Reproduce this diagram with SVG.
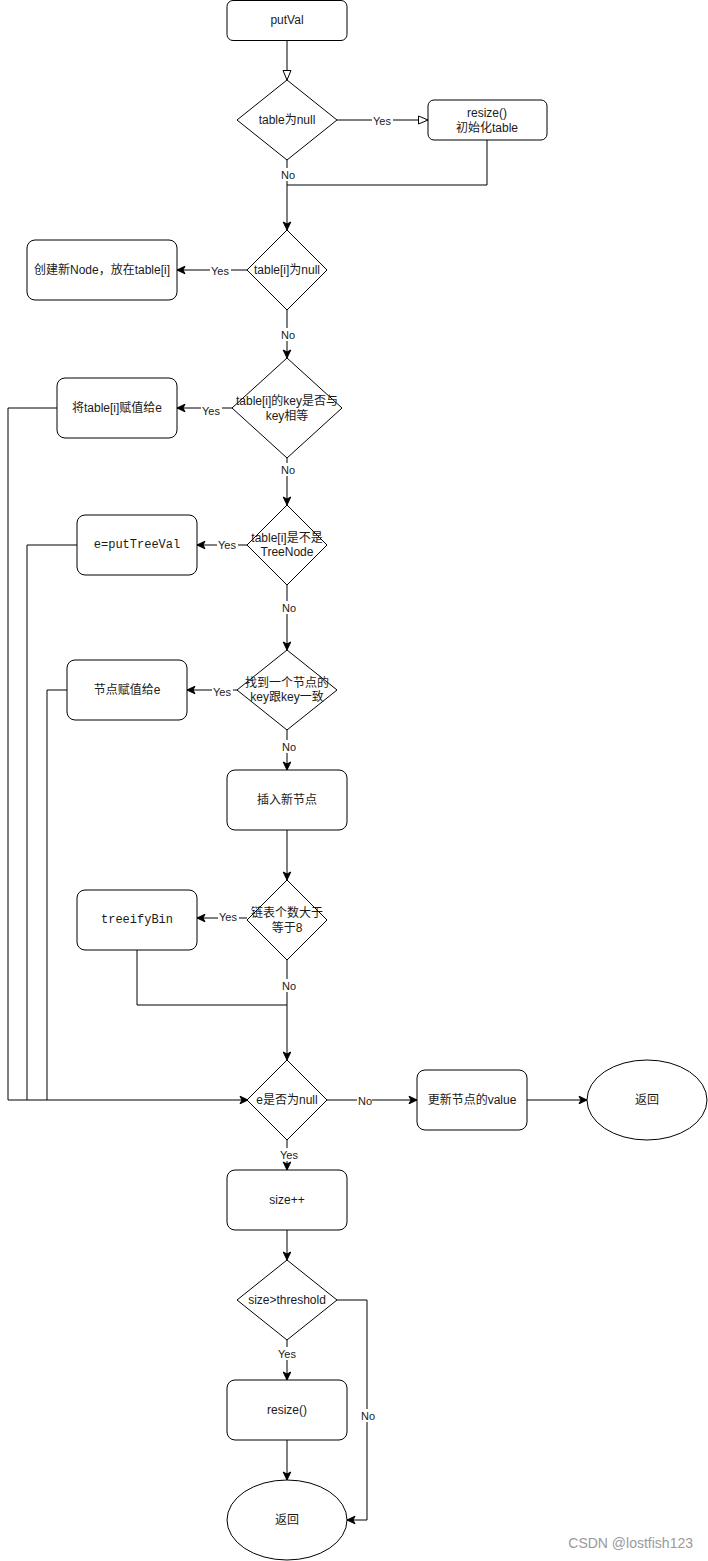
<svg xmlns="http://www.w3.org/2000/svg" width="708" height="1561" viewBox="0 0 708 1561">
<style>
.n{fill:#fff;stroke:#000;stroke-width:1}
.t{font-family:"Liberation Sans","Noto Sans CJK SC",sans-serif;font-size:12px;fill:#1a1a1a;text-anchor:middle;dominant-baseline:central}
.m{font-family:"Liberation Mono","Noto Sans CJK SC",monospace;font-size:12px;fill:#1a1a1a;text-anchor:middle;dominant-baseline:central}
.l{font-family:"Liberation Sans",sans-serif;font-size:11px;fill:#1a1a1a;text-anchor:middle;dominant-baseline:central}
.e{fill:none;stroke:#000;stroke-width:1}
.a{marker-end:url(#arr)}
.o{marker-end:url(#open)}
.bg{fill:#fff}
.w{font-family:"Liberation Sans",sans-serif;font-size:14px;fill:#9a9a9a}
</style>
<defs>
<marker id="arr" markerUnits="userSpaceOnUse" markerWidth="10" markerHeight="10" viewBox="0 0 10 10" refX="9" refY="5" orient="auto">
<path d="M1,1.2 L9,5 L1,8.8 L3,5 Z" fill="#000" stroke="#000" stroke-width="1"/>
</marker>
<marker id="open" markerUnits="userSpaceOnUse" markerWidth="12" markerHeight="12" viewBox="0 0 12 12" refX="10.5" refY="6" orient="auto">
<path d="M1,2 L10.5,6 L1,10 Z" fill="#fff" stroke="#000" stroke-width="1"/>
</marker>
</defs>

<g id="connectors">
<path class="e o" d="M287,40 L287,80"/>
<path class="e o" d="M337,120 L428,120"/>
<path class="e a" d="M287,160 L287,230"/>
<path class="e" d="M487,140 L487,185 L287,185"/>
<path class="e a" d="M247,270 L177,270"/>
<path class="e a" d="M287,310 L287,358"/>
<path class="e a" d="M232,408 L177,408"/>
<path class="e a" d="M57,408 L8,408 L8,1100 L248,1100"/>
<path class="e a" d="M287,458 L287,505"/>
<path class="e a" d="M247,545 L197,545"/>
<path class="e" d="M77,545 L27,545 L27,1100"/>
<path class="e a" d="M287,585 L287,650"/>
<path class="e a" d="M237,690 L187,690"/>
<path class="e" d="M67,690 L47,690 L47,1100"/>
<path class="e a" d="M287,730 L287,770"/>
<path class="e a" d="M287,830 L287,880"/>
<path class="e a" d="M247,918 L197,918"/>
<path class="e" d="M137,950 L137,1005 L287,1005"/>
<path class="e a" d="M287,960 L287,1060"/>
<path class="e a" d="M327,1100 L417,1100"/>
<path class="e a" d="M527,1100 L587,1100"/>
<path class="e a" d="M287,1140 L287,1170"/>
<path class="e a" d="M287,1230 L287,1260"/>
<path class="e a" d="M287,1340 L287,1380"/>
<path class="e a" d="M337,1300 L367,1300 L367,1520 L347,1520"/>
<path class="e a" d="M287,1440 L287,1480"/>
<g id="labels">
<rect class="bg" x="372" y="114" width="21" height="13"/><text class="l" x="382" y="121">Yes</text>
<rect class="bg" x="280" y="168" width="15" height="13"/><text class="l" x="288" y="175">No</text>
<rect class="bg" x="210" y="264" width="21" height="13"/><text class="l" x="220" y="271">Yes</text>
<rect class="bg" x="280" y="328" width="15" height="13"/><text class="l" x="288" y="335">No</text>
<rect class="bg" x="201" y="404" width="21" height="13"/><text class="l" x="211" y="411">Yes</text>
<rect class="bg" x="280" y="463" width="15" height="13"/><text class="l" x="288" y="470">No</text>
<rect class="bg" x="217" y="538" width="21" height="13"/><text class="l" x="227" y="545">Yes</text>
<rect class="bg" x="281" y="601" width="15" height="13"/><text class="l" x="289" y="608">No</text>
<rect class="bg" x="212" y="685" width="21" height="13"/><text class="l" x="222" y="692">Yes</text>
<rect class="bg" x="281" y="740" width="15" height="13"/><text class="l" x="289" y="747">No</text>
<rect class="bg" x="218" y="910" width="21" height="13"/><text class="l" x="228" y="917">Yes</text>
<rect class="bg" x="281" y="979" width="15" height="13"/><text class="l" x="289" y="986">No</text>
<rect class="bg" x="357" y="1094" width="15" height="13"/><text class="l" x="365" y="1101">No</text>
<rect class="bg" x="279" y="1148" width="21" height="13"/><text class="l" x="289" y="1155">Yes</text>
<rect class="bg" x="277" y="1347" width="21" height="13"/><text class="l" x="287" y="1354">Yes</text>
<rect class="bg" x="360" y="1409" width="15" height="13"/><text class="l" x="368" y="1416">No</text>
</g>
</g>

<g id="putVal"><rect class="n" x="227" y="0.5" width="120" height="40" rx="6"/><text class="t" x="287" y="20">putVal</text></g>
<g id="d_table_null"><polygon class="n" points="287,80 337,120 287,160 237,120"/><text class="t" x="287" y="120">table为null</text></g>
<g id="resize_init"><rect class="n" x="428" y="100" width="119" height="40" rx="6"/><text class="t" x="487" y="113">resize()</text><text class="t" x="487" y="128">初始化table</text></g>
<g id="d_tablei_null"><polygon class="n" points="287,230 327,270 287,310 247,270"/><text class="t" x="287" y="270">table[i]为null</text></g>
<g id="new_node"><rect class="n" x="27" y="240" width="150" height="60" rx="8"/><text class="t" x="102" y="270">创建新Node，放在table[i]</text></g>
<g id="d_key_eq"><polygon class="n" points="287,358 342,408 287,458 232,408"/><text class="t" x="287" y="401">table[i]的key是否与</text><text class="t" x="287" y="416">key相等</text></g>
<g id="assign_e"><rect class="n" x="57" y="378" width="120" height="60" rx="8"/><text class="t" x="117" y="408">将table[i]赋值给e</text></g>
<g id="d_treenode"><polygon class="n" points="287,505 327,545 287,585 247,545"/><text class="t" x="287" y="538">table[i]是不是</text><text class="t" x="287" y="552">TreeNode</text></g>
<g id="putTreeVal"><rect class="n" x="77" y="515" width="120" height="60" rx="8"/><text class="m" x="137" y="545">e=putTreeVal</text></g>
<g id="d_find"><polygon class="n" points="287,650 337,690 287,730 237,690"/><text class="t" x="287" y="683">找到一个节点的</text><text class="t" x="287" y="697">key跟key一致</text></g>
<g id="node_assign"><rect class="n" x="67" y="660" width="120" height="60" rx="8"/><text class="t" x="127" y="690">节点赋值给e</text></g>
<g id="insert"><rect class="n" x="227" y="770" width="120" height="60" rx="8"/><text class="t" x="287" y="800">插入新节点</text></g>
<g id="d_count"><polygon class="n" points="287,880 327,920 287,960 247,920"/><text class="t" x="287" y="913">链表个数大于</text><text class="t" x="287" y="928">等于8</text></g>
<g id="treeifyBin"><rect class="n" x="77" y="890" width="120" height="60" rx="8"/><text class="m" x="137" y="920">treeifyBin</text></g>
<g id="d_e_null"><polygon class="n" points="287,1060 327,1100 287,1140 247,1100"/><text class="t" x="287" y="1100">e是否为null</text></g>
<g id="update"><rect class="n" x="417" y="1070" width="110" height="60" rx="8"/><text class="t" x="472" y="1100">更新节点的value</text></g>
<g id="return1"><ellipse class="n" cx="647" cy="1100" rx="60" ry="40"/><text class="t" x="647" y="1100">返回</text></g>
<g id="size_inc"><rect class="n" x="227" y="1170" width="120" height="60" rx="8"/><text class="t" x="287" y="1200">size++</text></g>
<g id="d_threshold"><polygon class="n" points="287,1260 337,1300 287,1340 237,1300"/><text class="t" x="287" y="1300">size&gt;threshold</text></g>
<g id="resize2"><rect class="n" x="227" y="1380" width="120" height="60" rx="8"/><text class="t" x="287" y="1410">resize()</text></g>
<g id="return2"><ellipse class="n" cx="287" cy="1520" rx="60" ry="40"/><text class="t" x="287" y="1520">返回</text></g>
<text class="w" x="693" y="1548" text-anchor="end">CSDN @lostfish123</text>
</svg>
